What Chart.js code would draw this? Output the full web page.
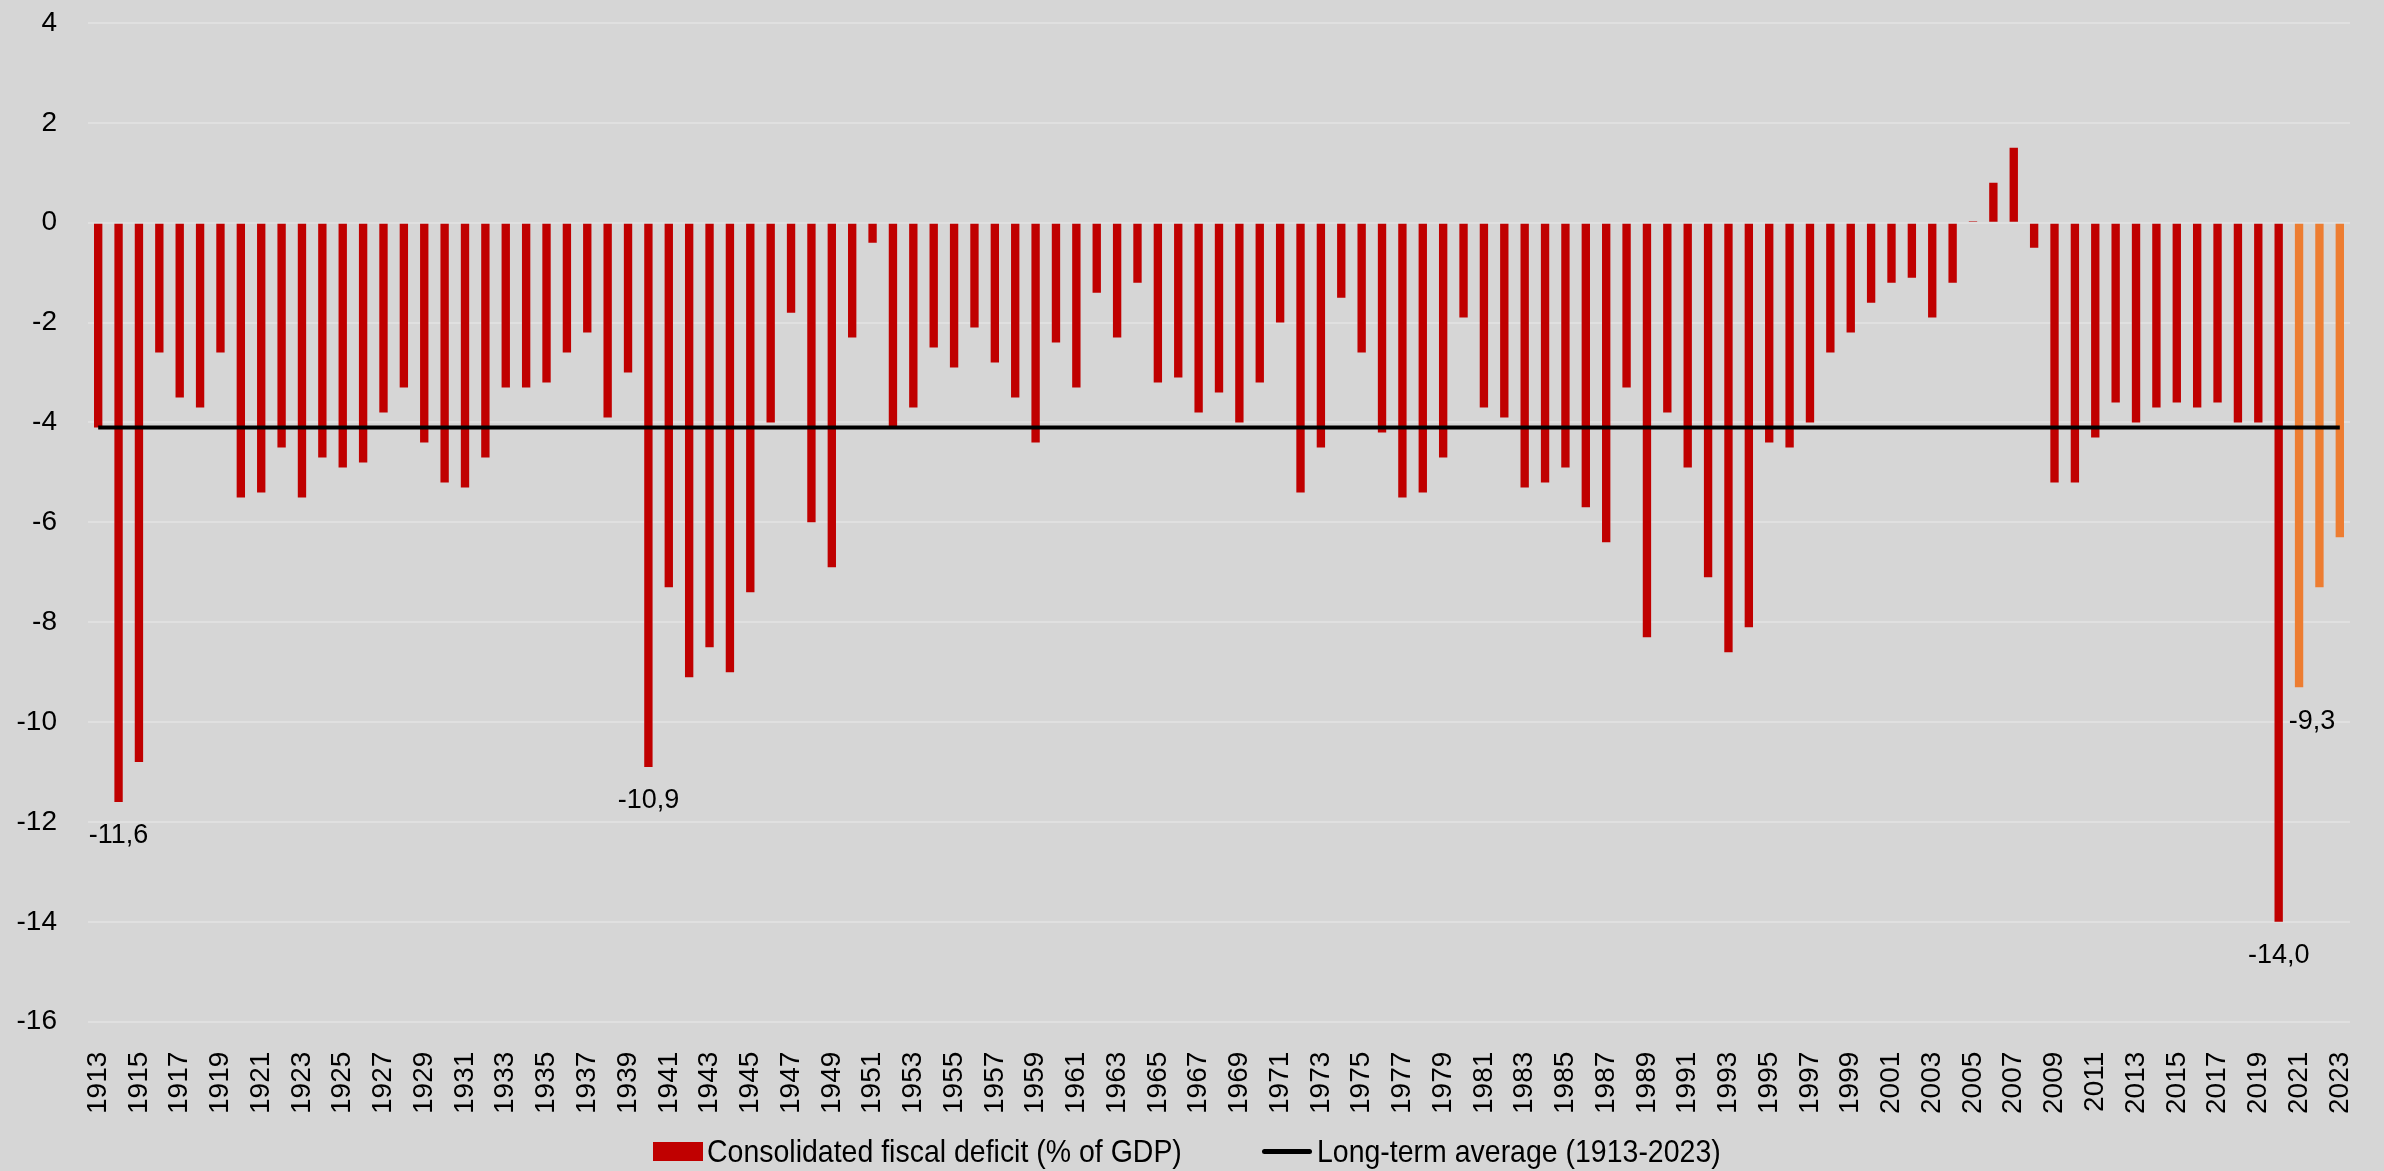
<!DOCTYPE html>
<html>
<head>
<meta charset="utf-8">
<script src="https://cdn.jsdelivr.net/npm/chart.js@4.4.0/dist/chart.umd.min.js"></script>
<style>
    body {
        margin: 0;
        background: #d6d6d6;
        overflow: hidden;
        font-family: 'Liberation Sans', Arial, sans-serif;
    }
    .chart-box {
        position: relative;
        width: 2384px;
        height: 1156px;
    }
    .legend__box, .legend__line, .legend__text {
        position: absolute;
    }
    .legend__box {
        left: 653px;
        top: 1142px;
        width: 50px;
        height: 19px;
        background: #c00000;
    }
    .legend__line {
        left: 1262px;
        top: 1149px;
        width: 50px;
        height: 5px;
        border-radius: 3px;
        background: #000;
    }
    .legend__text {
        top: 1131px;
        font-size: 32px;
        line-height: 40px;
        color: #000;
        white-space: nowrap;
        transform: scaleX(0.89);
        transform-origin: left center;
    }
</style>
</head>
<body>
<div class="chart-box">
    <canvas id="canvas"></canvas>
</div>
<span class="legend__box"></span>
<span class="legend__text" style="left: 707px">Consolidated fiscal deficit (% of GDP)</span>
<span class="legend__line"></span>
<span class="legend__text" style="left: 1317px">Long-term average (1913-2023)</span>
<script>
const FONT = "'Liberation Sans', Arial, sans-serif";

const years = [
    1913, 1914, 1915, 1916, 1917, 1918, 1919,
    1920, 1921, 1922, 1923, 1924, 1925, 1926, 1927, 1928, 1929,
    1930, 1931, 1932, 1933, 1934, 1935, 1936, 1937, 1938, 1939,
    1940, 1941, 1942, 1943, 1944, 1945, 1946, 1947, 1948, 1949,
    1950, 1951, 1952, 1953, 1954, 1955, 1956, 1957, 1958, 1959,
    1960, 1961, 1962, 1963, 1964, 1965, 1966, 1967, 1968, 1969,
    1970, 1971, 1972, 1973, 1974, 1975, 1976, 1977, 1978, 1979,
    1980, 1981, 1982, 1983, 1984, 1985, 1986, 1987, 1988, 1989,
    1990, 1991, 1992, 1993, 1994, 1995, 1996, 1997, 1998, 1999,
    2000, 2001, 2002, 2003, 2004, 2005, 2006, 2007, 2008, 2009,
    2010, 2011, 2012, 2013, 2014, 2015, 2016, 2017, 2018, 2019,
    2020, 2021, 2022, 2023
];

// consolidated fiscal deficit, % of GDP
const deficit = [
    -4.1, -11.6, -10.8, -2.6, -3.5, -3.7, -2.6,
    -5.5, -5.4, -4.5, -5.5, -4.7, -4.9, -4.8, -3.8, -3.3, -4.4,
    -5.2, -5.3, -4.7, -3.3, -3.3, -3.2, -2.6, -2.2, -3.9, -3.0,
    -10.9, -7.3, -9.1, -8.5, -9.0, -7.4, -4.0, -1.8, -6.0, -6.9,
    -2.3, -0.4, -4.1, -3.7, -2.5, -2.9, -2.1, -2.8, -3.5, -4.4,
    -2.4, -3.3, -1.4, -2.3, -1.2, -3.2, -3.1, -3.8, -3.4, -4.0,
    -3.2, -2.0, -5.4, -4.5, -1.5, -2.6, -4.2, -5.5, -5.4, -4.7,
    -1.9, -3.7, -3.9, -5.3, -5.2, -4.9, -5.7, -6.4, -3.3, -8.3,
    -3.8, -4.9, -7.1, -8.6, -8.1, -4.4, -4.5, -4.0, -2.6, -2.2,
    -1.6, -1.2, -1.1, -1.9, -1.2, 0.03, 0.8, 1.5, -0.5, -5.2,
    -5.2, -4.3, -3.6, -4.0, -3.7, -3.6, -3.7, -3.6, -4.0, -4.0,
    -14.0, -9.3, -7.3, -6.3
];

const longTermAverage = -4.1;
const forecastFrom = 2021;
const labelledYears = [1914, 1940, 2020, 2021];

const valueLabels = {
    id: 'valueLabels',
    afterDatasetsDraw(chart) {
        const meta = chart.getDatasetMeta(1);
        const c = chart.ctx;
        c.save();
        c.font = '27px ' + FONT;
        c.fillStyle = '#000';
        c.textAlign = 'center';
        c.textBaseline = 'middle';
        labelledYears.forEach(year => {
            const i = years.indexOf(year);
            const bar = meta.data[i];
            const shift = year >= forecastFrom ? 13 : 0;
            c.fillText(deficit[i].toFixed(1).replace('.', ','), bar.x + shift, bar.y + 34);
        });
        c.restore();
    }
};

const labels = years.map(String);

const config = {
    data: {
        labels: labels,
        datasets: [
            {
                type: 'line',
                label: 'Long-term average (1913-2023)',
                data: [
                    { x: labels[0], y: longTermAverage },
                    { x: labels[labels.length - 1], y: longTermAverage }
                ],
                borderColor: '#000',
                borderWidth: 4,
                pointRadius: 0
            },
            {
                type: 'bar',
                label: 'Consolidated fiscal deficit (% of GDP)',
                data: deficit,
                backgroundColor: years.map(y => y >= forecastFrom ? '#ed7d31' : '#c00000'),
                barPercentage: 0.41,
                categoryPercentage: 1
            }
        ]
    },
    options: {
        responsive: true,
        maintainAspectRatio: false,
        animation: false,
        layout: {
            padding: { top: 23, left: 15, right: 34, bottom: 20 }
        },
        plugins: {
            legend: { display: false },
            tooltip: { enabled: false }
        },
        scales: {
            x: {
                grid: { display: false },
                border: { display: false },
                afterFit: (scale) => {
                    // rotated labels should not push the plot inwards
                    scale.paddingLeft = 0;
                    scale.paddingRight = 0;
                },
                ticks: {
                    autoSkip: false,
                    minRotation: 90,
                    maxRotation: 90,
                    padding: 22,
                    color: '#000',
                    font: { family: FONT, size: 28 },
                    callback: function(value, index) {
                        return index % 2 === 0 ? this.getLabelForValue(value) : '';
                    }
                }
            },
            y: {
                min: -16,
                max: 4,
                border: { display: false },
                grid: { color: '#e0e0e0', lineWidth: 2, drawTicks: false },
                afterFit: (scale) => {
                    scale.width = 73;
                    scale.paddingTop = 14;
                    scale.paddingBottom = 14;
                },
                ticks: {
                    stepSize: 2,
                    padding: 31,
                    color: '#000',
                    font: { family: FONT, size: 28 }
                }
            }
        }
    },
    plugins: [valueLabels]
};

new Chart(document.getElementById('canvas'), config);
</script>
</body>
</html>
